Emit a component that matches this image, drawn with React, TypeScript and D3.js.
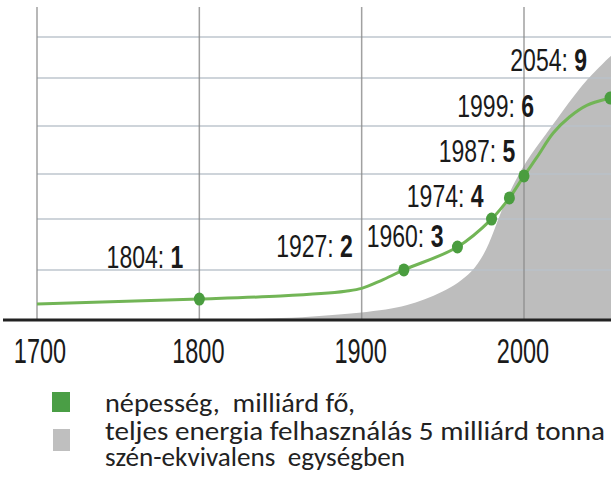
import React from 'react';
import * as d3 from 'd3';

// ---- data ----
const xTicks = [1700, 1800, 1900, 2000];
const gridValues = [2.03, 4.09, 5.92, 7.86, 9.81, 11.47];

// population curve (billions), as plotted
const popLineYears = [1700, 1800, 1850, 1875, 1890, 1900, 1912, 1926, 1959, 1980, 1991, 2000, 2008, 2018, 2028, 2039, 2053, 2056];
const popLineValues = [0.65, 0.85, 0.97, 1.07, 1.17, 1.28, 1.6, 2.03, 2.96, 4.09, 4.95, 5.84, 6.6, 7.58, 8.23, 8.71, 9.0, 9.05];

// labelled milestones
const dotYears = [1800, 1926, 1959, 1980, 1991, 2000, 2053];
const dotValues = [0.85, 2.03, 2.96, 4.09, 4.95, 5.84, 9.0];
const labelYears = ['1804', '1927', '1960', '1974', '1987', '1999', '2054'];
const labelPops = ['1', '2', '3', '4', '5', '6', '9'];

// total energy use (units of 5 billion t coal equivalent)
const energyYears = [1700, 1800, 1850, 1903, 1928, 1950, 1969, 1979, 1985, 1996, 2007, 2020, 2035, 2047, 2054, 2057];
const energyValues = [0, 0, 0.04, 0.3, 0.55, 1.1, 1.9, 3.1, 4.3, 5.88, 6.97, 8.11, 9.49, 10.3, 10.74, 10.9];

const legendLabels = [
  ['népesség,  milliárd fő,'],
  ['teljes energia felhasználás 5 milliárd tonna', 'szén-ekvivalens  egységben'],
];

// ---- layout ----
const W = 611;
const H = 482;
const labelOffsets: [number, number][] = [
  [-16, -31],
  [-51, -13],
  [-14, 0],
  [-8, -12],
  [6, -36],
  [10, -59],
  [-23, -27],
];
const legendLines = [
  { text: legendLabels[0][0], y: 412, len: 250 },
  { text: legendLabels[1][0], y: 440, len: 500 },
  { text: legendLabels[1][1], y: 466, len: 300 },
];

export default function App() {
  const x = d3.scaleLinear().domain([1700, 2000]).range([37, 524]);
  const y = d3.scaleLinear().domain([0, 9]).range([320, 98]);

  const energyArea = d3
    .area<number>()
    .x((_, i) => x(energyYears[i]))
    .y0(y(0))
    .y1((d) => y(d))
    .curve(d3.curveBasis)(energyValues) as string;

  const popLine = d3
    .line<number>()
    .x((_, i) => x(popLineYears[i]))
    .y((d) => y(d))
    .curve(d3.curveCatmullRom.alpha(0.5))(popLineValues) as string;

  const sansNarrow = "'Liberation Sans', Arial, sans-serif";
  const legendFont = "Carlito, Lato, 'Open Sans', sans-serif";

  return (
    <svg
      width={W}
      height={H}
      style={{ position: 'absolute', left: 0, top: 0, background: '#fff' }}
    >
      <rect x={0} y={0} width={W} height={H} fill="#fff" />
      {/* energy area */}
      <path d={energyArea} fill="#bdbdbd" />

      {/* horizontal grid */}
      {gridValues.map((v, i) => (
        <line
          key={'h' + i}
          x1={x(1700)}
          x2={W}
          y1={y(v)}
          y2={y(v)}
          stroke="#b9c2ca"
          strokeOpacity={0.7}
          strokeWidth={2}
        />
      ))}
      {/* vertical grid */}
      {xTicks.map((t) => (
        <line
          key={'v' + t}
          x1={x(t)}
          x2={x(t)}
          y1={7}
          y2={y(0)}
          stroke="#8a8a8a"
          strokeOpacity={0.8}
          strokeWidth={1.5}
        />
      ))}

      {/* population line */}
      <path d={popLine} fill="none" stroke="#72b556" strokeWidth={3} />
      {dotYears.map((yr, i) => (
        <ellipse
          key={'d' + i}
          cx={x(yr)}
          cy={y(dotValues[i])}
          rx={5.5}
          ry={6.5}
          fill="#4a9d3f"
        />
      ))}

      {/* milestone labels */}
      {dotYears.map((yr, i) => (
        <text
          key={'l' + i}
          transform={`translate(${x(yr) + labelOffsets[i][0]},${y(dotValues[i]) + labelOffsets[i][1]}) scale(1,1.4)`}
          textAnchor="end"
          fontSize={23}
          fontFamily={sansNarrow}
          fill="#1a1a1a"
        >
          {`${labelYears[i]}: `}
          <tspan fontWeight="bold">{labelPops[i]}</tspan>
        </text>
      ))}

      {/* x axis */}
      <line x1={3} x2={W} y1={y(0)} y2={y(0)} stroke="#222" strokeWidth={3} />
      {xTicks.map((t) => (
        <text
          key={'t' + t}
          transform={`translate(${x(t) + (t === 1700 ? 3 : -1)},363) scale(1,1.48)`}
          textAnchor="middle"
          fontSize={23.5}
          fontFamily={sansNarrow}
          fill="#1a1a1a"
        >
          {t}
        </text>
      ))}

      {/* legend */}
      <rect x={52} y={392} width={18} height={20} fill="#4a9e45" />
      <rect x={53} y={429} width={17} height={22} fill="#bfbfbf" />
      {legendLines.map((l, i) => (
        <text
          key={'lg' + i}
          transform={`translate(105,${l.y}) scale(1,1.05)`}
          fontSize={25}
          fontFamily={legendFont}
          fill="#222"
          textLength={l.len}
          lengthAdjust="spacingAndGlyphs"
          style={{ whiteSpace: 'pre' }}
        >
          {l.text}
        </text>
      ))}
    </svg>
  );
}
